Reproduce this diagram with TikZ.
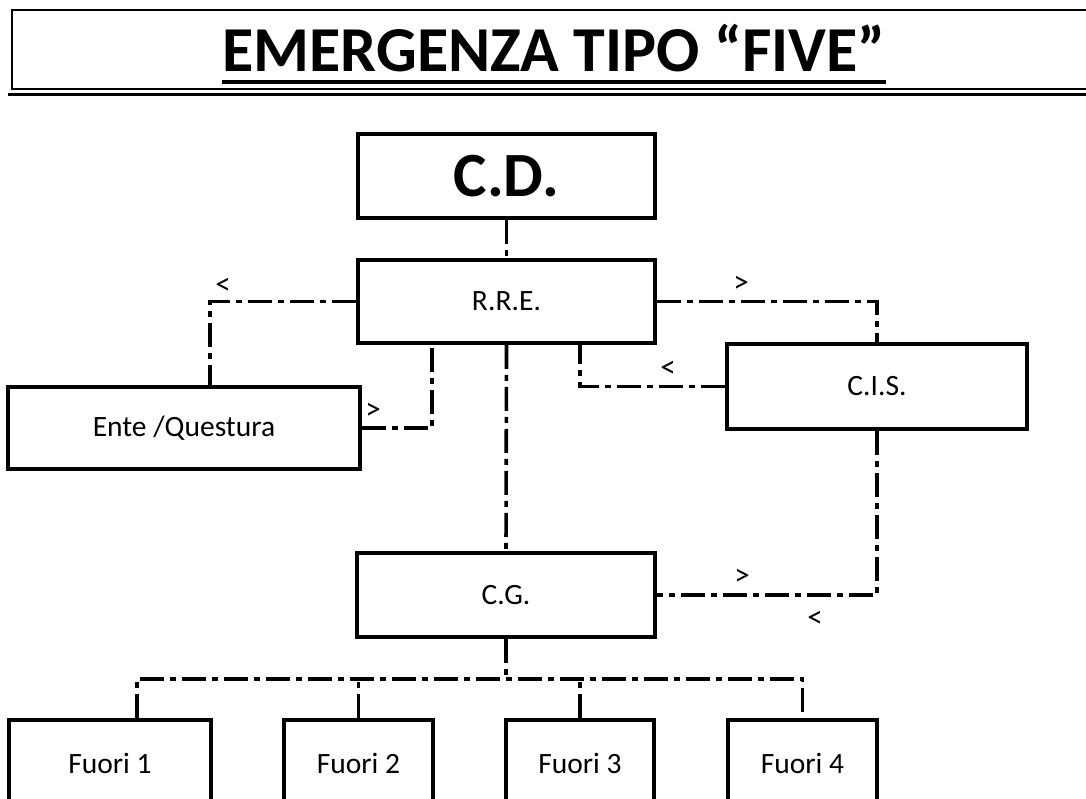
\documentclass[tikz,border=0pt]{standalone}
\usepackage{fontspec}
\setmainfont{Carlito}
\begin{document}
\begin{tikzpicture}[x=1pt,y=-1pt,
  box/.style={draw, line width=3.6pt, inner sep=0pt, font=\fontsize{29.5}{31}\selectfont},
  conn/.style={line width=3.6pt, dash pattern=on 24pt off 6pt on 6pt off 6pt},
  lbl/.style={inner sep=0pt, font=\fontsize{31}{33}\selectfont}]
\useasboundingbox (0,0) rectangle (1086,798);
\clip (0,0) rectangle (1086,798);
\fill[white] (0,0) rectangle (1086,798);
% title frame
\draw[line width=2.8pt] (1095,10) -- (12,10) -- (12,89) -- (1095,89);
\draw[line width=2.8pt] (8,94.5) -- (1095,94.5);
\node[anchor=base, inner sep=0pt, font=\fontsize{64}{66}\selectfont\bfseries] (title) at (554,71) {EMERGENZA TIPO “FIVE”};
\draw[line width=3.8pt] ([yshift=-11pt]title.base west) -- ([yshift=-11pt]title.base east);
% nodes
\node[box, minimum width=297pt, minimum height=84pt, font=\fontsize{63}{66}\selectfont\bfseries] (cd) at (506.5,176) {C.D.};
\node[box, minimum width=297pt, minimum height=83pt] (rre) at (506.5,301.5) {R.R.E.};
\node[box, minimum width=352pt, minimum height=82pt] (ente) at (184,428) {Ente /Questura};
\node[box, minimum width=300pt, minimum height=85pt] (cis) at (877,386.5) {C.I.S.};
\node[box, minimum width=298pt, minimum height=84pt] (cg) at (506,595) {C.G.};
\node[box, minimum width=202pt, minimum height=86pt] (f1) at (110,763) {Fuori 1};
\node[box, minimum width=149pt, minimum height=86pt] (f2) at (358.5,763) {Fuori 2};
\node[box, minimum width=148pt, minimum height=86pt] (f3) at (580,763) {Fuori 3};
\node[box, minimum width=149pt, minimum height=86pt] (f4) at (802.5,763) {Fuori 4};
\coordinate (bus) at (506,679);
% connectors
\draw[conn] (cd.south) -- (rre.north);
\draw[conn] (rre.west) -| ([xshift=26pt]ente.north);
\draw[conn] (ente.east) -| ([xshift=-74.5pt]rre.south);
\draw[conn] (rre.east) -| (cis.north);
\draw[conn] (cis.west) -| ([xshift=73.5pt]rre.south);
\draw[conn] (rre.south) -- (cg.north);
\draw[conn] (cis.south) |- (cg.east);
\draw[conn] (cg.south) -- (bus);
\draw[conn] ([xshift=27pt]f1.north) |- (bus) -| (f4.north);
\draw[conn] (f2.north) -- (f2.north |- bus);
\draw[conn] (f3.north) -- (f3.north |- bus);
% direction labels
\node[lbl] (l1) at (223,286) {<};
\node[lbl] (l2) at (373,411) {>};
\node[lbl] (l3) at (741,284) {>};
\node[lbl] (l4) at (668,369) {<};
\node[lbl] (l5) at (742,577) {>};
\node[lbl] (l6) at (815,619) {<};
\end{tikzpicture}
\end{document}
